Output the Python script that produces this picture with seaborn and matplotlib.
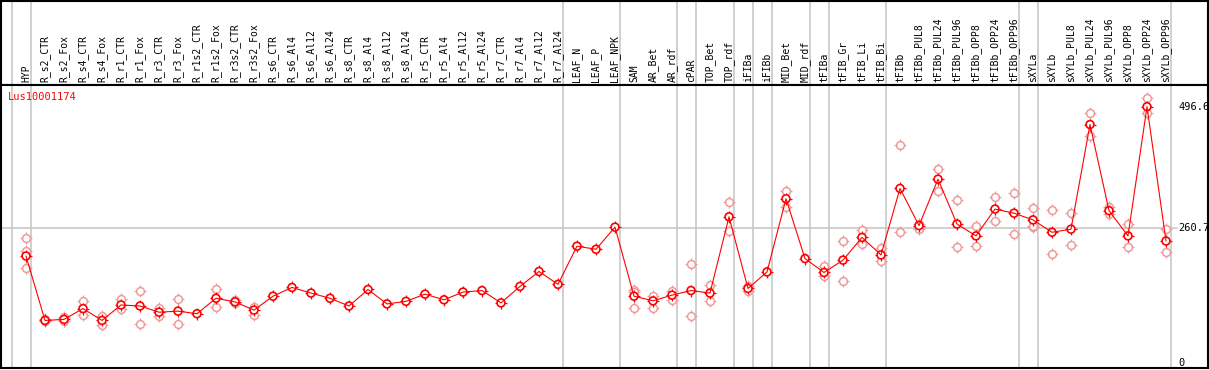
import numpy as np
import pandas as pd
import matplotlib
matplotlib.use("Agg")
import matplotlib.pyplot as plt
import seaborn as sns

# sample columns, left to right
samples = ["HYP",
           "R_s2_CTR", "R_s2_Fox", "R_s4_CTR", "R_s4_Fox", "R_r1_CTR", "R_r1_Fox",
           "R_r3_CTR", "R_r3_Fox", "R_r1s2_CTR", "R_r1s2_Fox", "R_r3s2_CTR", "R_r3s2_Fox",
           "R_s6_CTR", "R_s6_Al4", "R_s6_Al12", "R_s6_Al24",
           "R_s8_CTR", "R_s8_Al4", "R_s8_Al12", "R_s8_Al24",
           "R_r5_CTR", "R_r5_Al4", "R_r5_Al12", "R_r5_Al24",
           "R_r7_CTR", "R_r7_Al4", "R_r7_Al12", "R_r7_Al24",
           "LEAF_N", "LEAF_P", "LEAF_NPK",
           "SAM", "AR_Bet", "AR_rdf", "cPAR", "TOP_Bet", "TOP_rdf", "iFIBa", "iFIBb",
           "MID_Bet", "MID_rdf", "tFIBa", "tFIB_Gr", "tFIB_Li", "tFIB_Bi", "tFIBb",
           "tFIBb_PUL8", "tFIBb_PUL24", "tFIBb_PUL96", "tFIBb_OPP8", "tFIBb_OPP24", "tFIBb_OPP96",
           "sXYLa", "sXYLb",
           "sXYLb_PUL8", "sXYLb_PUL24", "sXYLb_PUL96", "sXYLb_OPP8", "sXYLb_OPP24", "sXYLb_OPP96"]

# mean expression per sample
means = [207, 82, 84, 105, 82, 112, 110, 98, 100, 95, 125, 118, 102,
         129, 146, 135, 125, 110, 142, 114, 119, 133, 122, 137, 140,
         116, 148, 177, 152, 226, 220, 263,
         129, 120, 131, 140, 135, 283, 144, 176, 318, 202, 175, 199, 243, 209, 338,
         266, 356, 269, 246, 298, 290, 277, 253,
         259, 462, 295, 246, 496.6, 236]

# individual replicates (nan = not shown)
nan = np.nan
rep1 = [241, 85, 89, 119, 91, 124, 140, 106, 124, nan, 142, 122, 109,
        nan, nan, nan, nan, nan, nan, nan, nan, nan, nan, nan, nan,
        nan, nan, nan, nan, nan, nan, nan,
        141, 130, 139, 191, 151, 311, 149, nan, 333, nan, 188, 236, 257, 222, 422,
        269, 375, 316, 266, 321, 329, 300, 296,
        290, 484, 303, 269, 513, 259]
rep2 = [217, 80, 80, 93, 73, 104, 76, 91, 75, nan, 109, 115, 93,
        nan, nan, nan, nan, nan, nan, nan, nan, nan, nan, nan, nan,
        nan, nan, nan, nan, nan, nan, nan,
        137, 107, 122, 90, 120, 255, 140, nan, 303, nan, 169, 158, 230, 198, 253,
        259, 334, 224, 226, 275, 249, 263, 211,
        228, 440, 288, 224, 484, 214]
rep3 = [183, nan, nan, nan, nan, nan, nan, nan, nan, nan, nan, nan, nan,
        nan, nan, nan, nan, nan, nan, nan, nan, nan, nan, nan, nan,
        nan, nan, nan, nan, nan, nan, nan,
        107, nan, nan, nan, nan, nan, nan, nan, nan, nan, nan, nan, nan, nan, nan,
        nan, nan, nan, nan, nan, nan, 265, nan,
        nan, nan, nan, nan, nan, nan]

# group boundaries: separator drawn after these column indices
group_ends = [-1, 0, 28, 31, 34, 35, 37, 38, 39, 41, 42, 45, 52, 53, 60]
scale_marks = [0, 260.7, 496.6]
gene = "Lus10001174"

idx = np.arange(len(samples))
mean_df = pd.DataFrame({"pos": idx, "value": means})
rep_df = pd.DataFrame({"pos": np.tile(idx, 3), "value": rep1 + rep2 + rep3}).dropna()

sns.set_style("white")
plt.rcParams["font.family"] = ["DejaVu Sans Mono", "DejaVu Sans"]

W, H = 1209, 370
fig = plt.figure(figsize=(W / 100, H / 100), dpi=100)


def rect(x0, y0, x1, y1):
    return [x0 / W, 1 - y1 / H, (x1 - x0) / W, (y1 - y0) / H]


head = fig.add_axes(rect(1, 0.5, 1208, 85))
ax = fig.add_axes(rect(1, 85, 1208, 368))

px = 19.0
xlim = ((1 - 26) / px, (1208 - 26) / px)
for a in (head, ax):
    a.set_xlim(*xlim)
    a.set_xticks([])
    a.set_yticks([])
    for s in a.spines.values():
        s.set_color("black")
        s.set_linewidth(1.5)
    for g in group_ends:
        a.axvline(g + 0.25, color="#c8c8c8", lw=1.2, zorder=0)

head.set_ylim(0, 1)
for i, name in enumerate(samples):
    head.text(i, 0.03, name, rotation=90, ha="center", va="bottom",
              fontsize=7, color="black")

# y scale: 0 at pixel 362.7, 496.6 at pixel 106.7
k = (362.7 - 106.7) / 496.6
ax.set_ylim(-(368 - 362.7) / k, (362.7 - 85) / k)
ax.axhline(scale_marks[1], xmin=0, xmax=(1177 - 1) / 1207, color="#c8c8c8", lw=1.2, zorder=0)

light = "#ef9a9a"
sns.scatterplot(data=rep_df, x="pos", y="value", ax=ax, marker="+", s=70,
                color=light, linewidth=0.9, zorder=2, legend=False)
sns.scatterplot(data=rep_df, x="pos", y="value", ax=ax, marker="o", s=32,
                color="white", edgecolor=light, linewidth=1.1, zorder=3, legend=False)
sns.scatterplot(data=mean_df, x="pos", y="value", ax=ax, marker="+", s=70,
                color="red", linewidth=0.9, zorder=4, legend=False)
sns.scatterplot(data=mean_df, x="pos", y="value", ax=ax, marker="o", s=32,
                color="white", edgecolor="none", zorder=5, legend=False)
sns.lineplot(data=mean_df, x="pos", y="value", ax=ax, color="red", lw=0.8, zorder=6)
sns.scatterplot(data=mean_df, x="pos", y="value", ax=ax, marker="o", s=32,
                color="red", facecolor="none", edgecolor="red", linewidth=1.2,
                zorder=7, legend=False)
ax.set_xlim(*xlim)
ax.set_xlabel("")
ax.set_ylabel("")

tx = (1178 - 1) / 1207
for v in scale_marks:
    lab = "0" if v == 0 else f"{v:.1f}"
    ax.text(tx, v, lab, transform=ax.get_yaxis_transform(), ha="left", va="center",
            fontsize=7.5, color="black", zorder=8, clip_on=False)

ax.text((8 - 1) / 1207, 1 - 12 / 283, gene, transform=ax.transAxes, ha="left",
        va="center", fontsize=7.5, color="red")

fig.savefig("out.png", dpi=100)
